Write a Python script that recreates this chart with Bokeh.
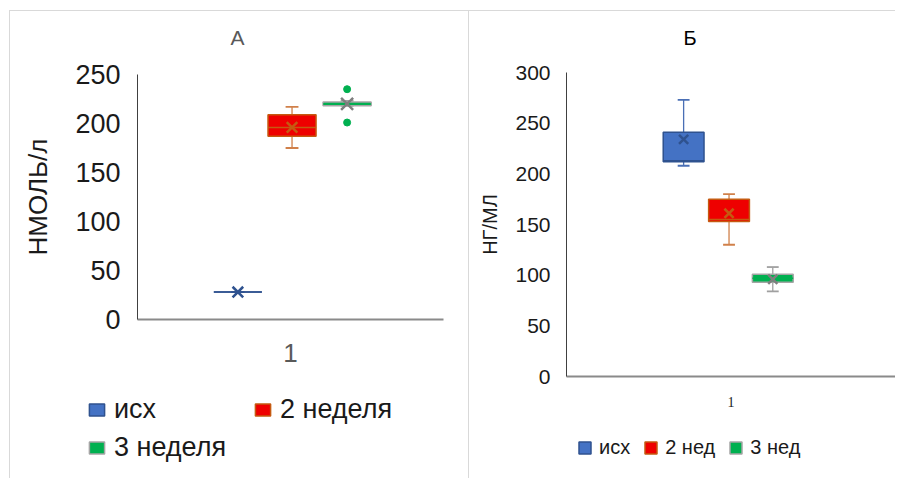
from bokeh.plotting import figure
from bokeh.models import Range1d, FixedTicker, Legend, LegendItem, Title
from bokeh.layouts import row
from bokeh.embed import file_html
from bokeh.resources import INLINE

# ---------------- data: panel А (НМОЛЬ/л) ----------------
a_series = ["исх", "2 неделя", "3 неделя"]
a_min = [28, 175, 218]
a_q1 = [28, 187, 218]
a_med = [28, 196, 220]
a_q3 = [28, 209, 222]
a_max = [28, 217, 223]
a_mean = [28, 196, 220]
a_outliers = [[], [], [235, 201]]
a_yticks = [0, 50, 100, 150, 200, 250]
a_xcat = [1]

# ---------------- data: panel Б (НГ/МЛ) ----------------
b_series = ["исх", "2 нед", "3 нед"]
b_min = [208, 130, 84]
b_q1 = [212, 153, 93]
b_med = [213, 155, 97]
b_q3 = [241, 175, 101]
b_max = [273, 180, 108]
b_mean = [234, 161, 96]
b_outliers = [[], [], []]
b_yticks = [0, 50, 100, 150, 200, 250, 300]
b_xcat = [1]

# ---------------- styles ----------------
FONT = "Liberation Sans"
fills = ["#4472C4", "#EE0000", "#00B050"]
edges = ["#2F528F", "#C55A11", "#A5A5A5"]
medcol = ["#2F528F", "#C55A11", "#00B050"]
whisk = ["#4A6FB5", "#D0804A", "#A0A0A0"]
means = ["#2F528F", "#C55A11", "#7F7F7F"]

H = 468          # figure content height
TOP = 48         # space reserved for the title above the frame


def ranges(fx0, fx1, px_a, px_b, fy0, fy1, py_top, py0, ytop):
    """Data ranges so that x 0.5..1.5 lands on px_a..px_b and y 0..ytop on py0..py_top,
    for a frame spanning fx0..fx1 / fy0..fy1 (all in page pixels)."""
    kx = (px_b - px_a) / 1.0
    ky = (py0 - py_top) / ytop
    xr = Range1d(0.5 - (px_a - fx0) / kx, 1.5 + (fx1 - px_b) / kx)
    yr = Range1d(-(fy1 - py0) / ky, ytop + (py_top - fy0) / ky)
    return xr, yr


def draw(p, xs, w, cap, mn, q1, med, q3, mx, mean, outl, mean_sizes):
    rends = []
    for i in range(3):
        x = xs[i]
        p.segment(x0=[x, x], y0=[q3[i], q1[i]], x1=[x, x], y1=[mx[i], mn[i]],
                  line_color=whisk[i], line_width=1.3)
        p.segment(x0=[x - cap / 2] * 2, y0=[mx[i], mn[i]],
                  x1=[x + cap / 2] * 2, y1=[mx[i], mn[i]],
                  line_color=whisk[i], line_width=1.8)
        r = p.vbar(x=[x], width=w, bottom=[q1[i]], top=[q3[i]],
                   fill_color=fills[i], line_color=edges[i], line_width=1.5)
        rends.append(r)
        p.segment(x0=[x - w / 2], y0=[med[i]], x1=[x + w / 2], y1=[med[i]],
                  line_color=medcol[i], line_width=1.5)
        p.scatter(x=[x], y=[mean[i]], marker="x", size=mean_sizes[i],
                  line_color=means[i], line_width=2.5)
        if outl[i]:
            p.scatter(x=[x] * len(outl[i]), y=outl[i], marker="circle", size=7,
                      fill_color=fills[i], line_color=fills[i])
    return rends


def base(width, xr, yr, ymax, yticks, ylabel, border):
    p = figure(width=width, height=H, output_backend="svg", toolbar_location=None,
               x_range=xr, y_range=yr,
               min_border_left=0, min_border_right=0, min_border_top=TOP,
               min_border_bottom=0, styles=border)
    p.title = None
    p.outline_line_color = None
    p.xgrid.grid_line_color = None
    p.ygrid.grid_line_color = None
    p.background_fill_color = "white"
    p.border_fill_color = "white"
    p.xaxis.fixed_location = 0
    p.yaxis.fixed_location = 0.5
    p.xaxis.bounds = (0.5, 1.5)
    p.yaxis.bounds = (0, ymax)
    p.yaxis.ticker = FixedTicker(ticks=yticks)
    p.yaxis.axis_label = ylabel
    p.yaxis.axis_label_text_font = FONT
    p.yaxis.axis_label_text_font_style = "normal"
    p.yaxis.major_tick_line_color = None
    p.yaxis.minor_tick_line_color = None
    p.yaxis.major_label_text_font = FONT
    p.xaxis.major_tick_line_color = None
    p.xaxis.minor_tick_line_color = None
    return p


def style_legend(lg, size, color):
    lg.label_text_font = FONT
    lg.label_text_font_size = size
    lg.label_text_color = color
    lg.padding = 0
    lg.margin = 0
    lg.border_line_color = None
    lg.background_fill_alpha = 0


# ---------------- panel А ----------------
xa, ya = ranges(10, 470, 137, 443, 11 + TOP, 479, 74, 319, 250)
pa = base(460, xa, ya, 250, a_yticks, "НМОЛЬ/л",
          {"border-left": "1px solid #d9d9d9", "border-top": "1px solid #d9d9d9",
           "border-right": "1px solid #d9d9d9"})
pa.margin = (10, 0, 0, 9)
pa.xaxis.ticker = FixedTicker(ticks=a_xcat)
pa.xaxis.major_label_text_font = FONT
pa.xaxis.major_label_text_font_size = "26px"
pa.xaxis.major_label_text_color = "#595959"
pa.xaxis.major_label_standoff = 18
pa.xaxis.axis_line_color = "#8a8a8a"
pa.xaxis.axis_line_width = 2
pa.yaxis.axis_line_color = "#404040"
pa.yaxis.major_label_text_font_size = "27px"
pa.yaxis.major_label_text_color = "#1a1a1a"
pa.yaxis.major_label_standoff = 11
pa.yaxis.axis_label_text_font_size = "26px"
pa.yaxis.axis_label_text_color = "#1a1a1a"
pa.yaxis.axis_label_standoff = 19
pa.add_layout(Title(text="А", align="left", offset=220, standoff=22,
                    text_font=FONT, text_font_size="21px", text_font_style="normal",
                    text_color="#595959"), "above")

a_dodge = [-0.172, 0.005, 0.185]
a_x = [a_xcat[0] + d for d in a_dodge]
ra = draw(pa, a_x, 0.157, 0.042, a_min, a_q1, a_med, a_q3, a_max, a_mean, a_outliers,
          [15, 15, 17])

leg_a1 = Legend(items=[LegendItem(label=a_series[0], renderers=[ra[0]]),
                       LegendItem(label=a_series[1], renderers=[ra[1]])],
                orientation="horizontal", location=(77, 54))
leg_a2 = Legend(items=[LegendItem(label=a_series[2], renderers=[ra[2]])],
                orientation="horizontal", location=(77, 16))
for lg in (leg_a1, leg_a2):
    style_legend(lg, "27px", "#1a1a1a")
    lg.glyph_width = 19
    lg.glyph_height = 15
    lg.label_standoff = 8
    lg.label_width = 139
    lg.spacing = 0
    pa.add_layout(lg, "center")

# ---------------- panel Б ----------------
xb, yb = ranges(470, 896, 567, 896, 11 + TOP, 479, 72, 376, 300)
pb = base(426, xb, yb, 300, b_yticks, "НГ/МЛ", {"border-top": "1px solid #d9d9d9"})
pb.margin = (10, 0, 0, 0)
pb.xaxis.ticker = FixedTicker(ticks=b_xcat)
pb.xaxis.major_label_text_font = "Liberation Serif"
pb.xaxis.major_label_text_font_size = "14px"
pb.xaxis.major_label_text_color = "#222222"
pb.xaxis.major_label_standoff = 14
pb.xaxis.axis_line_color = "#8a8a8a"
pb.xaxis.axis_line_width = 2
pb.yaxis.axis_line_color = "#404040"
pb.yaxis.major_label_text_font_size = "21px"
pb.yaxis.major_label_text_color = "#1a1a1a"
pb.yaxis.major_label_standoff = 10
pb.yaxis.axis_label_text_font_size = "20px"
pb.yaxis.axis_label_text_color = "#1a1a1a"
pb.yaxis.axis_label_standoff = 11
pb.add_layout(Title(text="Б", align="left", offset=214, standoff=22,
                    text_font=FONT, text_font_size="20px", text_font_style="normal",
                    text_color="#000000"), "above")

b_dodge = [-0.144, -0.006, 0.127]
b_x = [b_xcat[0] + d for d in b_dodge]
rb = draw(pb, b_x, 0.124, 0.036, b_min, b_q1, b_med, b_q3, b_max, b_mean, b_outliers,
          [13, 13, 13])

leg_b = Legend(items=[LegendItem(label=b_series[i], renderers=[rb[i]]) for i in range(3)],
               orientation="horizontal", location=(108, 20))
style_legend(leg_b, "20px", "#1a1a1a")
leg_b.glyph_width = 15
leg_b.glyph_height = 15
leg_b.label_standoff = 7
leg_b.spacing = 13
pb.add_layout(leg_b, "center")

layout = row(pa, pb)
layout.margin = 0
open("out.html", "w").write(file_html(layout, INLINE))
